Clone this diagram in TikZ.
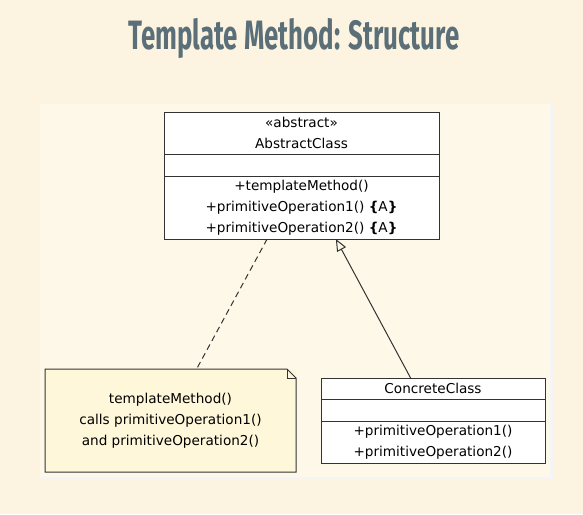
\documentclass[tikz,border=0pt]{standalone}
\usepackage{fontspec}
\setmainfont{DejaVu Sans}
\newfontfamily\titlefont[FakeStretch=0.63]{Fira Sans}
\usetikzlibrary{positioning,calc,arrows.meta}
\definecolor{pagebg}{HTML}{FCF4E1}
\definecolor{panelbg}{HTML}{FEF8E9}
\definecolor{titlecol}{HTML}{5B6F79}
\definecolor{notebg}{HTML}{FFF7DA}

\begin{document}
\begin{tikzpicture}[x=1pt,y=-1pt,
  every node/.style={align=center,inner sep=0pt,outer sep=0pt},%
  cls/.style={draw=black!80,line width=1pt,fill=white,font=\fontsize{13.6}{21}\selectfont},%
  dep/.style={dash pattern=on 6pt off 4pt,line width=1pt,black!80},%
  inh/.style={-{Triangle[open,length=12pt,width=10pt]},line width=1pt,black!80},%
  ]

  % page and panel
  \fill [pagebg] (0,0) rectangle (583,514);
  \useasboundingbox (0,0) rectangle (583,514);
  \fill [black!4] (39,103) rectangle (553,480);
  \fill [panelbg] (40,104) rectangle (550,477);

  \node (title) [text=titlecol,font=\titlefont\bfseries\fontsize{41}{41}\selectfont]
    at (294,38) {Template Method: Structure};

  % abstract class
  \node (absHead) [cls,minimum width=275pt,minimum height=42pt] at (301.5,133)
    {«abstract»\\AbstractClass};
  \node (absAttr) [cls,minimum width=275pt,minimum height=22pt,below=0pt of absHead] {};
  \node (absOps) [cls,minimum width=275pt,minimum height=63pt,below=0pt of absAttr]
    {+templateMethod()\\+primitiveOperation1() {\bfseries\{}A{\bfseries\}}\\+primitiveOperation2() {\bfseries\{}A{\bfseries\}}};

  % concrete class
  \node (conHead) [cls,minimum width=224pt,minimum height=21pt] at (433,388.5) {ConcreteClass};
  \node (conAttr) [cls,minimum width=224pt,minimum height=22pt,below=0pt of conHead] {};
  \node (conOps) [cls,minimum width=224pt,minimum height=42pt,below=0pt of conAttr]
    {+primitiveOperation1()\\+primitiveOperation2()};

  % note
  \coordinate (noteNW) at (45,369);
  \coordinate (noteSE) at (296,472);
  \fill [notebg] (noteNW) -- (noteNW -| noteSE) -- (noteSE) -- (noteSE -| noteNW) -- cycle;
  \node (note) at ($(noteNW)!0.5!(noteSE)$) [font=\fontsize{13.6}{21}\selectfont]
    {templateMethod()\\calls primitiveOperation1()\\and primitiveOperation2()};
  \draw [line width=1pt,black!80]
    (noteNW) -- ($(noteNW -| noteSE)+(-9,0)$) -- ($(noteNW -| noteSE)+(0,9)$)
    -- (noteSE) -- (noteSE -| noteNW) -- cycle;
  \draw [line width=0.7pt,black!80]
    ($(noteNW -| noteSE)+(-9,0)$) -- ($(noteNW -| noteSE)+(-9,9)$) -- ($(noteNW -| noteSE)+(0,9)$);

  % connectors
  \draw [dep] ($(absOps.south west)!0.375!(absOps.south east)$)
    -- ($(noteNW)!0.604!(noteNW -| noteSE)$);
  \draw [inh] ($(conHead.north west)!0.40!(conHead.north east)$)
    -- ($(absOps.south west)!0.625!(absOps.south east)$);
\end{tikzpicture}
\end{document}
